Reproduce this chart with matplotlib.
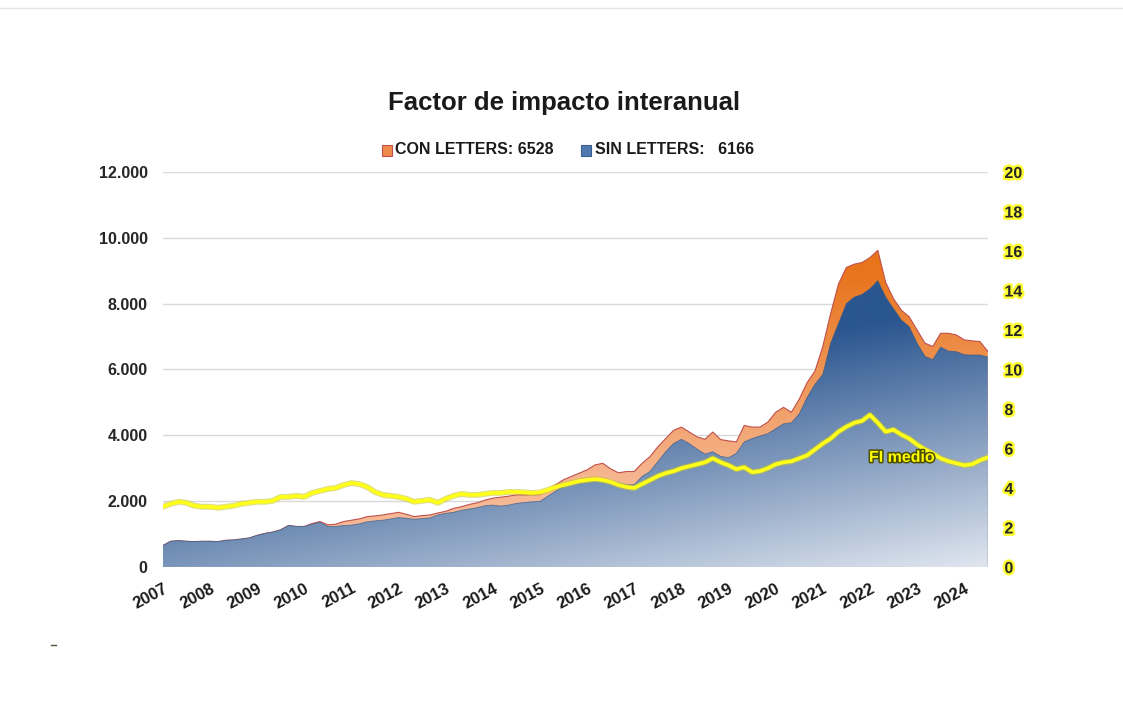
import numpy as np
import pandas as pd
import matplotlib
matplotlib.use("Agg")
import matplotlib.pyplot as plt
import matplotlib.patheffects as pe
from matplotlib.patches import Rectangle
from matplotlib.lines import Line2D
from matplotlib.colors import to_rgb

# datos bimestrales, ene 2007 .. jul 2024
fechas = pd.date_range("2007-01-01", "2024-07-01", freq="2MS")

con_letters = [
    650, 780, 800, 780, 770, 780,
    780, 770, 810, 820, 850, 880,
    960, 1020, 1060, 1130, 1260, 1230,
    1230, 1320, 1380, 1280, 1300, 1380,
    1420, 1460, 1530, 1550, 1580, 1620,
    1660, 1600, 1530, 1560, 1580, 1640,
    1690, 1780, 1830, 1900, 1950, 2030,
    2090, 2120, 2150, 2190, 2190, 2190,
    2200, 2350, 2500, 2650, 2750, 2850,
    2950, 3100, 3150, 2980, 2860, 2900,
    2900, 3150, 3350, 3650, 3900, 4150,
    4250, 4100, 3950, 3880, 4100, 3870,
    3830, 3800, 4300, 4250, 4250, 4400,
    4700, 4850, 4700, 5100, 5600, 5950,
    6700, 7700, 8600, 9100, 9200, 9250,
    9400, 9620, 8650, 8150, 7800, 7600,
    7200, 6800, 6700, 7100, 7100, 7050,
    6900, 6870, 6850, 6550,
]

sin_letters = [
    650, 780, 800, 780, 770, 780,
    780, 770, 810, 820, 850, 880,
    960, 1020, 1060, 1130, 1260, 1230,
    1230, 1300, 1360, 1230, 1230, 1260,
    1270, 1310, 1370, 1400, 1420, 1460,
    1500, 1480, 1450, 1470, 1490, 1580,
    1630, 1660, 1720, 1760, 1800, 1860,
    1880, 1850, 1880, 1930, 1960, 1980,
    1990, 2150, 2300, 2440, 2560, 2620,
    2640, 2700, 2650, 2600, 2550, 2500,
    2500, 2750, 2900, 3200, 3500, 3750,
    3880, 3750, 3580, 3430, 3500, 3360,
    3320, 3450, 3800, 3900, 3980, 4050,
    4200, 4350, 4380, 4650, 5150, 5550,
    5850, 6800, 7400, 8000, 8200, 8280,
    8450, 8700, 8200, 7850, 7500, 7300,
    6800, 6400, 6300, 6680, 6560, 6540,
    6450, 6440, 6440, 6380,
]

fi_medio = [
    3.05, 3.2, 3.3, 3.25, 3.1, 3.05,
    3.05, 3.0, 3.05, 3.1, 3.2, 3.25,
    3.3, 3.3, 3.35, 3.55, 3.55, 3.6,
    3.55, 3.75, 3.85, 3.95, 4.0, 4.15,
    4.25, 4.2, 4.05, 3.8, 3.65, 3.6,
    3.55, 3.45, 3.3, 3.35, 3.4, 3.25,
    3.45, 3.6, 3.7, 3.65, 3.65, 3.7,
    3.75, 3.75, 3.8, 3.8, 3.78, 3.75,
    3.78, 3.9, 4.05, 4.15, 4.25, 4.35,
    4.4, 4.45, 4.4, 4.3, 4.15, 4.05,
    4.0, 4.2, 4.4, 4.6, 4.75, 4.85,
    5.0, 5.1, 5.2, 5.3, 5.5, 5.3,
    5.15, 4.95, 5.05, 4.8, 4.85, 5.0,
    5.2, 5.3, 5.35, 5.5, 5.65, 5.95,
    6.25, 6.5, 6.85, 7.1, 7.3, 7.4,
    7.7, 7.3, 6.85, 6.95, 6.7, 6.5,
    6.2, 5.95, 5.75, 5.5, 5.35, 5.25,
    5.15, 5.2, 5.4, 5.55,
]

anios = list(range(2007, 2025))
ticks_izq = [0, 2000, 4000, 6000, 8000, 10000, 12000]
ticks_der = list(range(0, 21, 2))

fuente = ["Liberation Sans", "DejaVu Sans"]
plt.rcParams["font.family"] = fuente

x = np.array(fechas.year + (fechas.month - 1) / 12.0)
con = np.array(con_letters, dtype=float)
sin = np.array(sin_letters, dtype=float)
fi = np.array(fi_medio, dtype=float)


def area_degradada(ax, x, y, color_fn, zorder):
    poly = ax.fill_between(x, 0, y, facecolor="none", edgecolor="none")
    xx, yy = np.meshgrid(np.linspace(0, 1, 400), np.linspace(0, 1, 400))
    img = color_fn(xx, yy)
    im = ax.imshow(img, extent=[x[0], x[-1], 0, 12000], origin="lower",
                   aspect="auto", interpolation="bilinear", zorder=zorder)
    im.set_clip_path(poly.get_paths()[0], transform=ax.transData)


def mezcla(c1, c2, s):
    c1 = np.array(to_rgb(c1))
    c2 = np.array(to_rgb(c2))
    return c1 + (c2 - c1) * s[..., None]


def color_azul(xx, yy):
    s = np.clip(yy * 1.35 + 0.5 * (1 - xx) + 0.1, 0, 1)
    return mezcla("#F4F6FA", "#2B5690", s)


def color_naranja(xx, yy):
    s = np.clip((yy * 12000 - 2500) / 6500, 0, 1)
    return mezcla("#F6B894", "#E8741C", s)


fig = plt.figure(figsize=(11.23, 7.24), dpi=100)
ax = fig.add_axes([0.145, 0.2169, 0.7346, 0.5455])

for v in ticks_izq:
    ax.axhline(v, color="#D9D9D9", lw=1, zorder=0.5)

area_degradada(ax, x, con, color_naranja, 1)
ax.plot(x, con, color="#C0504D", lw=0.8, zorder=1.5)
area_degradada(ax, x, sin, color_azul, 2)
ax.plot(x, sin, color="#34598A", lw=0.6, alpha=0.7, zorder=2.5)
ax.plot([x[-1], x[-1]], [0, sin[-1]], color="#5A7FAF", lw=1, zorder=2.5)

ax.set_xlim(x[0], x[-1])
ax.set_ylim(0, 12000)
for s in ax.spines.values():
    s.set_visible(False)

ax.set_yticks(ticks_izq)
ax.set_yticklabels([f"{v:,.0f}".replace(",", ".") for v in ticks_izq],
                   fontsize=11.5, fontweight="bold", color="#262626")
ax.set_xticks(anios)
ax.set_xticklabels([str(a) for a in anios], rotation=28, ha="right",
                   rotation_mode="anchor", fontsize=12, fontweight="bold",
                   color="#1a1a1a")
ax.tick_params(axis="y", length=0, pad=11)
ax.tick_params(axis="x", length=0, pad=10)

ax2 = ax.twinx()
ax2.set_ylim(0, 20)
for s in ax2.spines.values():
    s.set_visible(False)
ax2.plot(x, fi, color="#FFFF1A", lw=2.6, zorder=3,
         path_effects=[pe.Stroke(linewidth=4.2, foreground="#C8C832", alpha=0.6), pe.Normal()])
ax2.set_yticks(ticks_der)
ax2.set_yticklabels([str(v) for v in ticks_der], fontsize=11.5, fontweight="bold",
                    color="#262626",
                    path_effects=[pe.withStroke(linewidth=3.5, foreground="#FFFF33")])
ax2.tick_params(axis="y", length=0, pad=12)

ax2.text(2022.68, 5.55, "FI medio", ha="center", va="center", fontsize=11.5,
         fontweight="bold", color="#FFFF00", zorder=4,
         path_effects=[pe.withStroke(linewidth=2.2, foreground="#4D4D00")])

fig.text(0.502, 0.858, "Factor de impacto interanual", ha="center", va="center",
         fontsize=18.5, fontweight="bold", color="#1a1a1a")

# leyenda
ley_y = 1 - 150 / 724
fig.add_artist(Rectangle((382 / 1123, ley_y - 0.008), 0.0093, 0.0145,
                         transform=fig.transFigure, facecolor="#F08A4B", edgecolor="#C0504D", lw=0.8))
fig.text(395 / 1123, ley_y, "CON LETTERS: 6528", ha="left", va="center", fontsize=11.5,
         fontweight="bold", color="#1a1a1a")
fig.add_artist(Rectangle((581 / 1123, ley_y - 0.008), 0.0093, 0.0145,
                         transform=fig.transFigure, facecolor="#4F79B0", edgecolor="#3A5F8F", lw=0.8))
fig.text(595 / 1123, ley_y, "SIN LETTERS:   6166", ha="left", va="center", fontsize=11.5,
         fontweight="bold", color="#1a1a1a")

# borde superior tenue y marca pequeña
fig.add_artist(Line2D([0, 1], [1 - 8 / 724, 1 - 8 / 724], transform=fig.transFigure,
                      color="#E6E6E6", lw=1))
fig.add_artist(Line2D([51 / 1123, 56 / 1123], [1 - 645 / 724, 1 - 645 / 724],
                      transform=fig.transFigure, color="#555533", lw=1))

fig.savefig("out.png", dpi=100)
